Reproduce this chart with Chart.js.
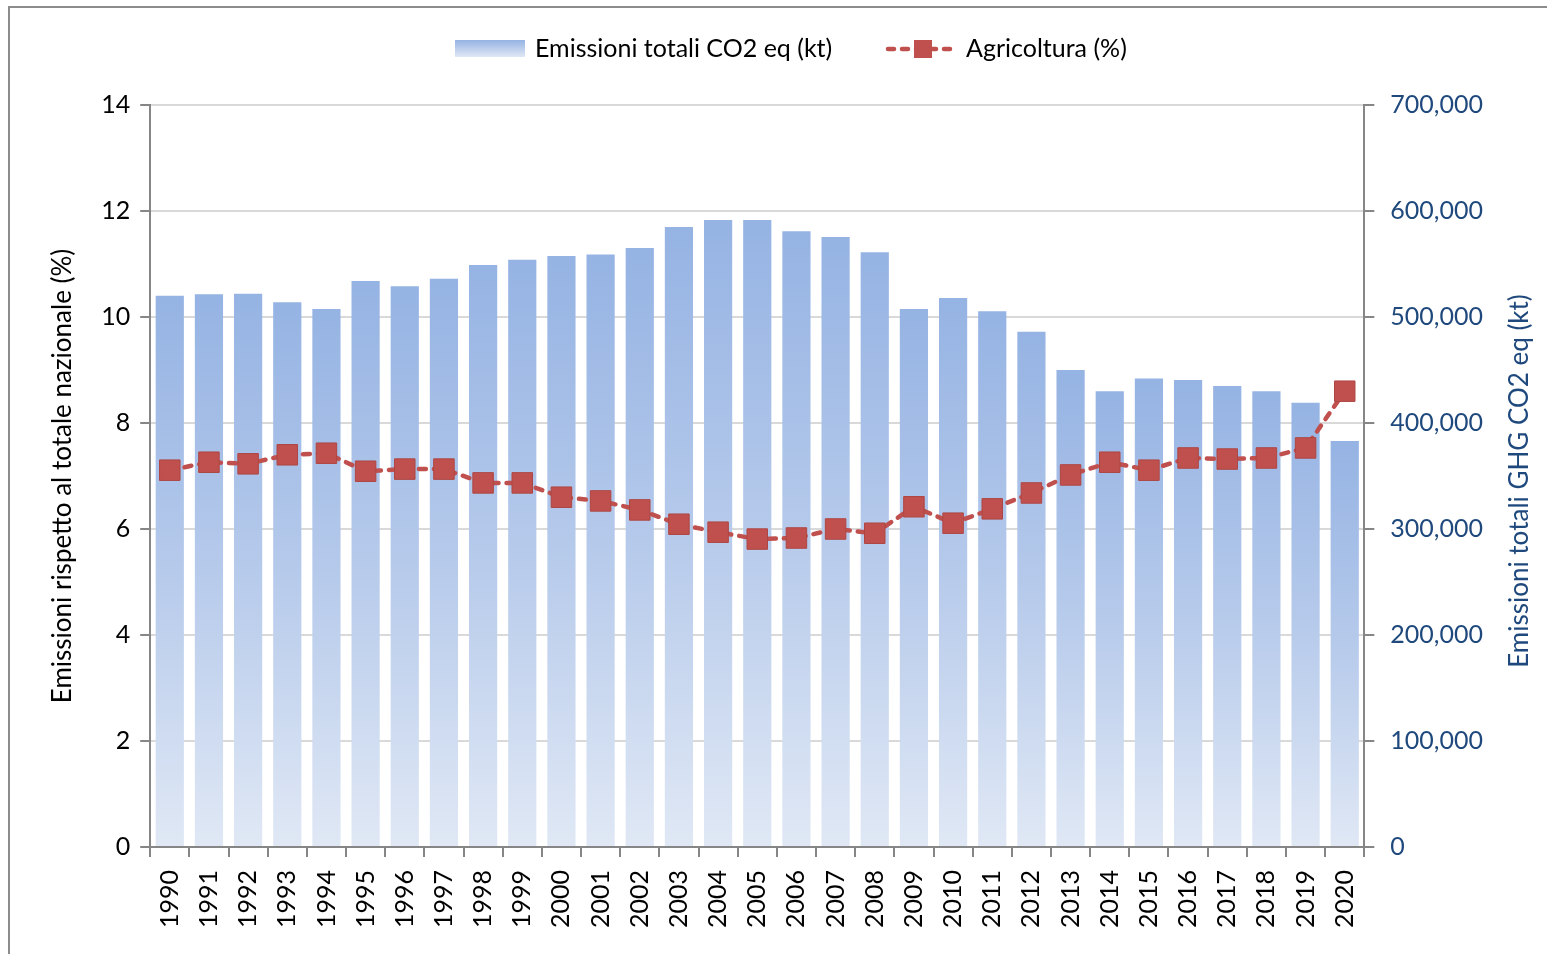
<!DOCTYPE html>
<html>
<head>
<meta charset="utf-8">
<script src="https://cdn.jsdelivr.net/npm/chart.js@4.4.1/dist/chart.umd.min.js"></script>
<style>
    html, body { margin: 0; padding: 0; background: #fff; }
    #wrap { position: absolute; left: 0; top: 0; width: 1547px; height: 954px; }
</style>
</head>
<body>
<div id="wrap"><canvas id="chart" width="1547" height="954"></canvas></div>
<script>
// Anni
const years = ['1990','1991','1992','1993','1994','1995','1996','1997','1998','1999',
    '2000','2001','2002','2003','2004','2005','2006','2007','2008','2009',
    '2010','2011','2012','2013','2014','2015','2016','2017','2018','2019','2020'];

// Emissioni totali CO2 eq (kt)
const totalEmissions = [520000, 521500, 522000, 514000, 507500, 534000, 529000, 536000, 549000, 554000,
    557500, 559000, 565000, 585000, 591500, 591500, 581000, 575500, 561000, 507500,
    518000, 505500, 486000, 450000, 430000, 442000, 440500, 435000, 430000, 419000, 383000];

// Agricoltura (%)
const agriShare = [7.11, 7.26, 7.23, 7.40, 7.43, 7.09, 7.13, 7.13, 6.87, 6.87,
    6.60, 6.53, 6.36, 6.09, 5.94, 5.81, 5.83, 6.00, 5.92, 6.42,
    6.11, 6.38, 6.68, 7.02, 7.26, 7.11, 7.34, 7.32, 7.34, 7.53, 8.60];

const leftTicks = [0, 2, 4, 6, 8, 10, 12, 14];
const rightTicks = [0, 100000, 200000, 300000, 400000, 500000, 600000, 700000];

const FONT = 'Lato, "Open Sans", sans-serif';
const RED = '#c0504d';
const BLUE_TEXT = '#1f497d';
const AXIS_GRAY = '#868686';

function barGradient(ctx) {
    const chart = ctx.chart;
    const area = chart.chartArea;
    if (!area || ctx.raw === undefined) return '#9ab5e4';
    const top = chart.scales.y2.getPixelForValue(ctx.raw);
    const g = chart.ctx.createLinearGradient(0, top, 0, area.bottom);
    g.addColorStop(0, '#95b3e3');
    g.addColorStop(0.5, '#b6caeb');
    g.addColorStop(1, '#e0e8f5');
    return g;
}

// Frame, legend and right axis title drawn on the canvas
const decorations = {
    id: 'decorations',
    beforeDraw(chart) {
        const c = chart.ctx;
        c.save();
        c.fillStyle = '#fff';
        c.fillRect(0, 0, chart.width, chart.height);
        c.strokeStyle = '#8c8c8c';
        c.lineWidth = 2;
        c.strokeRect(9, 7, 1560, 1000);
        c.restore();
    },
    afterDraw(chart) {
        const c = chart.ctx;
        const area = chart.chartArea;
        c.save();
        // bar item
        const g = c.createLinearGradient(0, 40, 0, 57);
        g.addColorStop(0, '#95b3e3');
        g.addColorStop(1, '#e0e8f5');
        c.fillStyle = g;
        c.fillRect(455, 40, 70, 17);
        c.font = '25px ' + FONT;
        c.fillStyle = '#000';
        c.textBaseline = 'middle';
        c.fillText('Emissioni totali CO2 eq (kt)', 535, 49);
        // line item
        c.strokeStyle = RED;
        c.lineWidth = 4.5;
        c.lineCap = 'round';
        c.setLineDash([6, 8]);
        c.beginPath();
        c.moveTo(888, 49);
        c.lineTo(958, 49);
        c.stroke();
        c.setLineDash([]);
        c.fillStyle = RED;
        c.fillRect(914, 40, 18, 18);
        c.fillStyle = '#000';
        c.fillText('Agricoltura (%)', 966, 49);
        // right axis title, reading bottom to top
        c.translate(1520, (area.top + area.bottom) / 2 + 5);
        c.rotate(-Math.PI / 2);
        c.textAlign = 'center';
        c.fillStyle = BLUE_TEXT;
        c.font = '26px ' + FONT;
        c.fillText('Emissioni totali GHG CO2 eq (kt)', 0, 0);
        c.restore();
    }
};

new Chart(document.getElementById('chart'), {
    data: {
        labels: years,
        datasets: [
            {
                type: 'line',
                label: 'Agricoltura (%)',
                data: agriShare,
                yAxisID: 'y',
                order: 0,
                borderColor: RED,
                borderWidth: 4.5,
                borderDash: [7, 8],
                borderCapStyle: 'round',
                tension: 0,
                pointStyle: 'rect',
                pointRadius: 14.5,
                pointBackgroundColor: RED,
                pointBorderColor: '#ad4643',
                pointBorderWidth: 1
            },
            {
                type: 'bar',
                label: 'Emissioni totali CO2 eq (kt)',
                data: totalEmissions,
                yAxisID: 'y2',
                order: 1,
                backgroundColor: barGradient,
                barPercentage: 0.72,
                categoryPercentage: 1.0
            }
        ]
    },
    options: {
        responsive: false,
        animation: false,
        layout: { padding: { top: 105, left: 47, right: 48, bottom: 13 } },
        plugins: {
            legend: { display: false },
            tooltip: { enabled: false }
        },
        scales: {
            x: {
                offset: true,
                grid: {
                    display: true,
                    drawOnChartArea: false,
                    offset: true,
                    color: AXIS_GRAY,
                    lineWidth: 2,
                    tickLength: 10
                },
                border: { color: AXIS_GRAY, width: 2 },
                ticks: {
                    minRotation: 90,
                    maxRotation: 90,
                    color: '#000',
                    padding: 13,
                    font: { family: FONT, size: 25 }
                }
            },
            y: {
                position: 'left',
                min: 0,
                max: 14,
                afterBuildTicks(axis) { axis.ticks = leftTicks.map(v => ({ value: v })); },
                grid: {
                    color: '#d9d9d9',
                    lineWidth: 2,
                    tickColor: AXIS_GRAY,
                    tickLength: 10
                },
                border: { color: AXIS_GRAY, width: 2 },
                ticks: {
                    color: '#000',
                    padding: 10,
                    font: { family: FONT, size: 25 }
                },
                title: {
                    display: true,
                    text: 'Emissioni rispetto al totale nazionale (%)',
                    color: '#000',
                    padding: { top: 0, bottom: 13 },
                    font: { family: FONT, size: 26 }
                }
            },
            y2: {
                position: 'right',
                min: 0,
                max: 700000,
                afterBuildTicks(axis) { axis.ticks = rightTicks.map(v => ({ value: v })); },
                grid: {
                    drawOnChartArea: false,
                    color: AXIS_GRAY,
                    lineWidth: 2,
                    tickLength: 10
                },
                border: { color: AXIS_GRAY, width: 2 },
                ticks: {
                    color: BLUE_TEXT,
                    padding: 16,
                    font: { family: FONT, size: 25 },
                    callback: v => v.toLocaleString('en-US')
                }
            }
        }
    },
    plugins: [decorations]
});
</script>
</body>
</html>
